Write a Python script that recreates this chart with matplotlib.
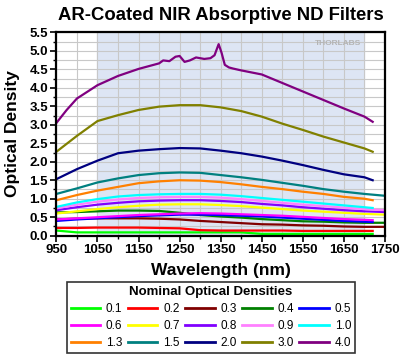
import numpy as np
import matplotlib
matplotlib.use('Agg')
import matplotlib.pyplot as plt
from matplotlib.ticker import MultipleLocator, FixedLocator

plt.rcParams['font.family'] = ['Liberation Sans', 'DejaVu Sans']

# =============================================================================
# Data
# =============================================================================

WL_SHORT = [950, 1000, 1050, 1100, 1150, 1200, 1250, 1300, 1350, 1400,
            1450, 1500, 1550, 1600, 1650, 1700, 1720]
WL_LONG = [950, 1000, 1050, 1100, 1150, 1200, 1250, 1300, 1350, 1400,
           1450, 1500, 1550, 1600, 1650, 1700, 1750]

OD_01 = [0.14, 0.09, 0.09, 0.09, 0.09, 0.09, 0.09, 0.09, 0.09, 0.09, 0.05, 0.05, 0.05, 0.05, 0.05, 0.05, 0.05]
OD_02 = [0.21, 0.21, 0.22, 0.22, 0.22, 0.21, 0.20, 0.15, 0.14, 0.14, 0.14, 0.14, 0.13, 0.13, 0.13, 0.13, 0.13]
OD_03 = [0.44, 0.46, 0.47, 0.47, 0.47, 0.46, 0.44, 0.40, 0.37, 0.34, 0.31, 0.30, 0.28, 0.27, 0.25, 0.24, 0.24]
OD_04 = [0.63, 0.64, 0.66, 0.68, 0.68, 0.67, 0.62, 0.56, 0.52, 0.49, 0.45, 0.42, 0.39, 0.38, 0.36, 0.35, 0.35]
OD_05 = [0.40, 0.44, 0.47, 0.50, 0.53, 0.55, 0.57, 0.57, 0.56, 0.54, 0.52, 0.49, 0.46, 0.43, 0.40, 0.38, 0.37]
OD_06 = [0.44, 0.47, 0.50, 0.53, 0.56, 0.58, 0.60, 0.61, 0.60, 0.58, 0.56, 0.54, 0.51, 0.48, 0.45, 0.43, 0.42]
OD_07 = [0.60, 0.66, 0.72, 0.77, 0.81, 0.84, 0.85, 0.85, 0.83, 0.80, 0.76, 0.72, 0.68, 0.65, 0.62, 0.59, 0.57]
OD_08 = [0.69, 0.77, 0.84, 0.89, 0.93, 0.95, 0.96, 0.96, 0.94, 0.91, 0.86, 0.82, 0.77, 0.73, 0.69, 0.66, 0.64]
OD_09 = [0.74, 0.84, 0.92, 0.98, 1.02, 1.04, 1.05, 1.05, 1.03, 0.99, 0.94, 0.89, 0.84, 0.80, 0.76, 0.72, 0.69]
OD_10 = [0.78, 0.90, 0.99, 1.06, 1.10, 1.12, 1.13, 1.13, 1.11, 1.07, 1.02, 0.97, 0.92, 0.87, 0.82, 0.77, 0.75]
OD_13 = [0.96, 1.10, 1.22, 1.32, 1.42, 1.47, 1.50, 1.49, 1.45, 1.39, 1.32, 1.26, 1.19, 1.13, 1.05, 1.00, 0.96]
OD_15 = [1.13, 1.28, 1.44, 1.55, 1.64, 1.69, 1.71, 1.70, 1.64, 1.58, 1.51, 1.43, 1.35, 1.26, 1.19, 1.13, 1.08]
OD_20 = [1.53, 1.80, 2.03, 2.23, 2.30, 2.34, 2.37, 2.36, 2.30, 2.23, 2.14, 2.03, 1.91, 1.78, 1.66, 1.58, 1.50]
OD_30 = [2.27, 2.70, 3.10, 3.26, 3.40, 3.49, 3.53, 3.53, 3.47, 3.37, 3.22, 3.03, 2.86, 2.68, 2.52, 2.36, 2.27]

WL_40 = [950, 975, 1000, 1050, 1100, 1150, 1200, 1210, 1225, 1240, 1250, 1262, 1275, 1290, 1310,
         1325, 1335, 1345, 1352, 1360, 1370, 1380, 1400, 1450, 1500, 1550, 1600, 1650, 1700, 1720]
OD_40 = [3.05, 3.40, 3.71, 4.07, 4.32, 4.51, 4.66, 4.74, 4.72, 4.84, 4.86, 4.70, 4.74, 4.82, 4.78,
         4.80, 4.88, 5.18, 4.95, 4.62, 4.55, 4.52, 4.47, 4.36, 4.13, 3.90, 3.67, 3.44, 3.22, 3.08]

X_TICKS = [950, 1050, 1150, 1250, 1350, 1450, 1550, 1650, 1750]

LABELS = ['0.1', '0.2', '0.3', '0.4', '0.5', '0.6', '0.7', '0.8', '0.9', '1.0',
          '1.3', '1.5', '2.0', '3.0', '4.0']
KLEUREN = ['#00ff00', '#ff0000', '#800000', '#008000', '#0000ff', '#ff00ff', '#ffff00', '#8000ff',
           '#ff80ff', '#00ffff', '#ff8000', '#008080', '#000080', '#808000', '#800080']

REEKSEN = [(WL_SHORT, OD_01), (WL_SHORT, OD_02), (WL_LONG, OD_03), (WL_LONG, OD_04),
           (WL_SHORT, OD_05), (WL_SHORT, OD_06), (WL_LONG, OD_07), (WL_LONG, OD_08),
           (WL_LONG, OD_09), (WL_SHORT, OD_10), (WL_SHORT, OD_13), (WL_LONG, OD_15),
           (WL_SHORT, OD_20), (WL_SHORT, OD_30), (WL_40, OD_40)]

# =============================================================================
# Plot
# =============================================================================

fig = plt.figure(figsize=(4, 3.55), dpi=100)
ax = fig.add_axes([0.141, 0.336, 0.8215, 0.573])

ax.axvspan(1050, 1700, color='#dde5f4', zorder=0)

lijnen = []
for (wl, od), lab, kl in zip(REEKSEN, LABELS, KLEUREN):
    lijn, = ax.plot(wl, od, color=kl, lw=1.6, label=lab, zorder=2)
    lijnen.append(lijn)

ax.set_xlim(950, 1750)
ax.set_ylim(0, 5.5)
ax.xaxis.set_major_locator(FixedLocator(X_TICKS))
ax.xaxis.set_minor_locator(MultipleLocator(50))
ax.yaxis.set_major_locator(MultipleLocator(0.5))
ax.yaxis.set_minor_locator(MultipleLocator(0.25))
ax.yaxis.set_major_formatter(plt.FormatStrFormatter('%.1f'))
ax.grid(which='both', color='#c8c8c8', lw=0.8, zorder=1)
ax.set_axisbelow(True)
for sp in ax.spines.values():
    sp.set_linewidth(1.6)
ax.tick_params(which='major', length=4, width=1.2, labelsize=9.5, pad=2)
ax.tick_params(which='minor', length=2, width=1)
for lbl in ax.get_xticklabels() + ax.get_yticklabels():
    lbl.set_fontweight('bold')

ax.set_xlabel('Wavelength (nm)', fontsize=12.5, fontweight='bold', labelpad=5)
ax.set_ylabel('Optical Density', fontsize=12.5, fontweight='bold', labelpad=7)
ax.set_title('AR-Coated NIR Absorptive ND Filters', fontsize=13.3, fontweight='bold', pad=9)

ax.text(1635, 5.2, 'THORLABS', color='#b4b4b4', fontsize=6, fontweight='bold',
        ha='center', va='center', zorder=3)

# legenda rij voor rij vullen
volgorde = [r * 5 + c for c in range(5) for r in range(3)]
leg = fig.legend([lijnen[i] for i in volgorde], [LABELS[i] for i in volgorde],
                 ncol=5, loc='upper left', bbox_to_anchor=(0.1675, 0.2056),
                 borderaxespad=0,
                 title='Nominal Optical Densities', fontsize=8.5,
                 title_fontproperties={'weight': 'bold', 'size': 9.5},
                 frameon=True, fancybox=False, edgecolor='black',
                 handlelength=2.5, handletextpad=0.5, columnspacing=0.45,
                 labelspacing=0.45, borderpad=0.3)
leg.get_frame().set_linewidth(1.2)
for h in leg.get_lines():
    h.set_linewidth(2)

fig.savefig('out.png', dpi=100)
